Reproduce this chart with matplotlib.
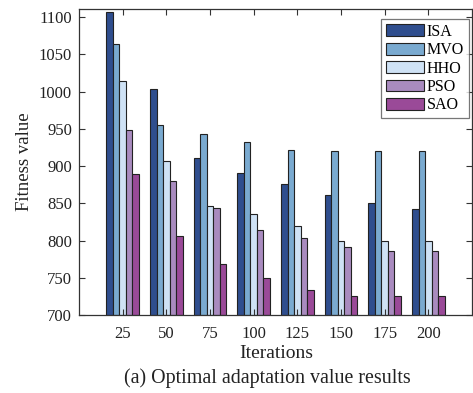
import numpy as np
import matplotlib
matplotlib.use("Agg")
import matplotlib.pyplot as plt

iterations = ["25", "50", "75", "100", "125", "150", "175", "200"]
isa = [1107, 1003, 911, 891, 876, 861, 850, 842]
mvo = [1064, 955, 943, 933, 922, 920, 920, 920]
hho = [1014, 907, 847, 835, 820, 800, 800, 800]
pso = [949, 880, 844, 814, 804, 791, 786, 786]
sao = [890, 806, 769, 750, 734, 725, 725, 725]

names = ["ISA", "MVO", "HHO", "PSO", "SAO"]
colors = ["#2F4E8E", "#7AAAD0", "#CFE2F5", "#A98BBF", "#9A4A98"]

plt.rcParams['font.family'] = ['Liberation Serif', 'DejaVu Serif']
plt.rcParams['font.size'] = 12

fig = plt.figure(figsize=(4.73, 3.93), dpi=100)
ax = fig.add_axes([79 / 473, 1 - 315 / 393, (472 - 79) / 473, (315 - 9) / 393])

# grouped bars, five methods per iteration count
x = np.arange(1, len(iterations) + 1)
w = 0.15
for i, (vals, name, c) in enumerate(zip([isa, mvo, hho, pso, sao], names, colors)):
    ax.bar(x + (i - 2) * w, np.array(vals) - 700, bottom=700, width=w,
           color=c, edgecolor="#222222", linewidth=0.8, label=name)

ax.set_xlim(0, 9)
ax.set_ylim(700, 1111)
ax.set_xticks(x)
ax.set_xticklabels(iterations)
ax.set_yticks(np.arange(700, 1101, 50))
ax.tick_params(direction="in", top=True, right=True, length=4, width=0.8,
               colors="#333333", labelcolor="#222222", labelsize=12)
ax.tick_params(axis="x", pad=8)
ax.tick_params(axis="y", pad=5)
for s in ax.spines.values():
    s.set_color("#333333")
    s.set_linewidth(0.9)

ax.set_ylabel("Fitness value", fontsize=13.5, labelpad=4, color="#222222")

leg = ax.legend(loc="upper right", bbox_to_anchor=(0.992, 0.967), fancybox=False,
                edgecolor="#555555", handlelength=2.35, handleheight=0.75,
                handletextpad=0.2, labelspacing=0.15, borderpad=0.3,
                borderaxespad=0.0, fontsize=11.5)
leg.get_frame().set_linewidth(0.9)

fig.text(276 / 473, 1 - 354 / 393, "Iterations",
         ha="center", va="center", fontsize=14, color="#222222")
fig.text(267 / 473, 1 - 378 / 393, "(a) Optimal adaptation value results",
         ha="center", va="center", fontsize=14.4, color="#222222")

fig.savefig("out.png", dpi=100)
